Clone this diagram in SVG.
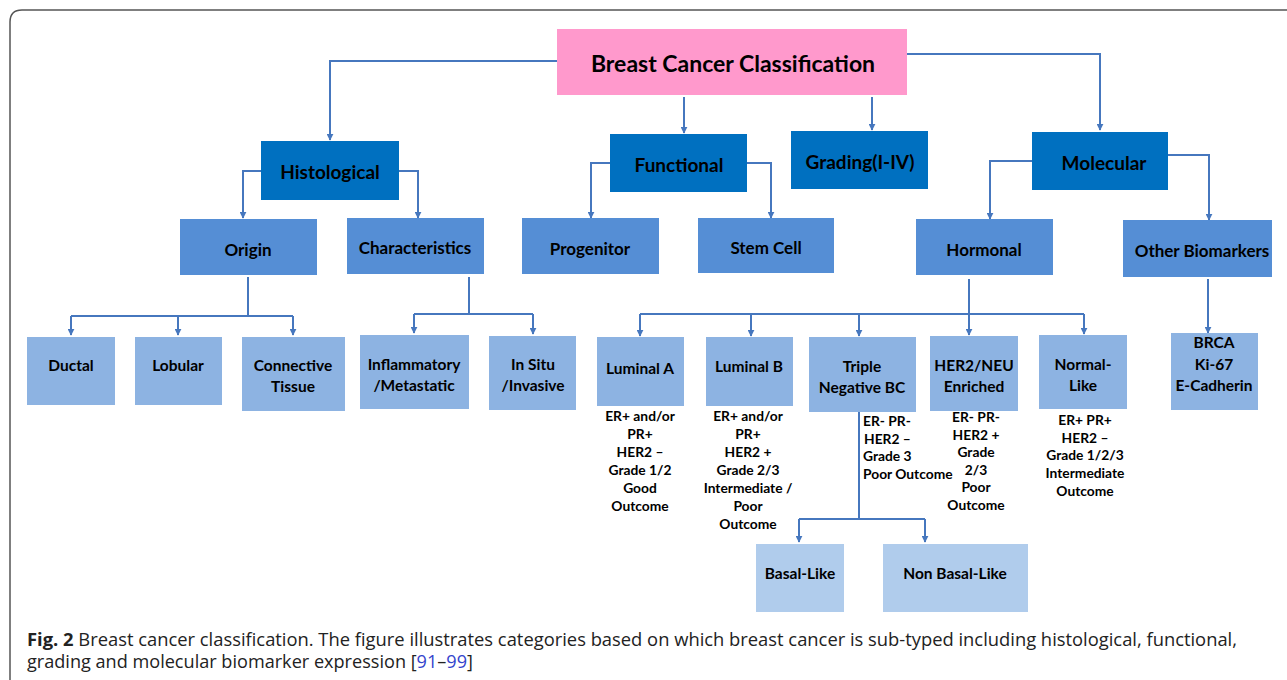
<svg xmlns="http://www.w3.org/2000/svg" width="1287" height="680" viewBox="0 0 1287 680">
<defs>
<marker id="ah" viewBox="0 0 10 10" refX="9" refY="5" markerWidth="7" markerHeight="7" markerUnits="userSpaceOnUse" orient="auto">
<path d="M0,0 L10,5 L0,10 z" fill="#4677BE"/>
</marker>
<style>
.c{fill:none;stroke:#4677BE;stroke-width:2}
.a{marker-end:url(#ah)}
.t{font-family:Lato,"Open Sans","Liberation Sans",sans-serif;font-weight:bold;fill:#000;text-anchor:middle}
.root{fill:#FF99CC}
.l1{fill:#0070C0}
.l2{fill:#558ED5}
.l3{fill:#8DB3E2}
.l4{fill:#B0CCEC}
.s0{font-size:23px}
.s1{font-size:19px}
.s2{font-size:17px}
.s3{font-size:15.5px}
.s4{font-size:13.8px}
.cap{font-family:"Open Sans","Liberation Sans",sans-serif;font-size:18px;fill:#222}
</style>
</defs>
<rect width="1287" height="680" fill="#fff"/>
<path d="M10,690 V22 Q10,10 22,10 H1300" fill="none" stroke="#555" stroke-width="1.5"/>

<g id="connectors">
<path class="c a" d="M557,61 H330 V140"/>
<path class="c a" d="M684,97 V133"/>
<path class="c a" d="M872,97 V130"/>
<path class="c a" d="M906,54 H1100 V130"/>
<path class="c a" d="M261,171 H243 V218"/>
<path class="c a" d="M399,171 H418 V218"/>
<path class="c a" d="M610,163 H591 V218"/>
<path class="c a" d="M747,163 H771 V218"/>
<path class="c a" d="M1032,161 H990 V219"/>
<path class="c a" d="M1168,155 H1209 V220"/>
<path class="c" d="M248,277 V316 M71,316 H293"/>
<path class="c a" d="M71,316 V335"/>
<path class="c a" d="M178,316 V335"/>
<path class="c a" d="M293,316 V335"/>
<path class="c" d="M469,277 V314 M414,314 H533"/>
<path class="c a" d="M414,314 V333"/>
<path class="c a" d="M533,314 V334"/>
<path class="c" d="M969,279 V314 M640,314 H1084"/>
<path class="c a" d="M640,314 V336"/>
<path class="c a" d="M751,314 V336"/>
<path class="c a" d="M859,314 V336"/>
<path class="c a" d="M969,314 V335"/>
<path class="c a" d="M1084,314 V334"/>
<path class="c a" d="M1208,279 V333"/>
<path class="c" d="M859,412 V519 M799,519 H925"/>
<path class="c a" d="M799,519 V542"/>
<path class="c a" d="M925,519 V542"/>
</g>

<g id="root"><rect class="root" x="557" y="29" width="350" height="66"/><text class="t s0" x="733" y="72">Breast Cancer Classification</text></g>
<g id="histological"><rect class="l1" x="261" y="141" width="138" height="59"/><text class="t s1" x="330" y="179">Histological</text></g>
<g id="functional"><rect class="l1" x="610" y="134" width="137" height="58"/><text class="t s1" x="679" y="172">Functional</text></g>
<g id="grading"><rect class="l1" x="791" y="131" width="137" height="58"/><text class="t s1" x="860" y="169">Grading(I-IV)</text></g>
<g id="molecular"><rect class="l1" x="1032" y="132" width="136" height="58"/><text class="t s1" x="1104" y="170">Molecular</text></g>

<g id="origin"><rect class="l2" x="180" y="219" width="137" height="56"/><text class="t s2" x="248" y="256">Origin</text></g>
<g id="characteristics"><rect class="l2" x="347" y="218" width="137" height="56"/><text class="t s2" x="415" y="254">Characteristics</text></g>
<g id="progenitor"><rect class="l2" x="522" y="218" width="137" height="56"/><text class="t s2" x="590" y="255">Progenitor</text></g>
<g id="stemcell"><rect class="l2" x="698" y="218" width="136" height="55"/><text class="t s2" x="766" y="254">Stem Cell</text></g>
<g id="hormonal"><rect class="l2" x="916" y="219" width="137" height="56"/><text class="t s2" x="984" y="256">Hormonal</text></g>
<g id="otherbiomarkers"><rect class="l2" x="1123" y="220" width="149" height="57"/><text class="t s2" x="1202" y="257">Other Biomarkers</text></g>

<g id="ductal"><rect class="l3" x="27" y="337" width="88" height="68"/><text class="t s3" x="71" y="371">Ductal</text></g>
<g id="lobular"><rect class="l3" x="135" y="337" width="87" height="68"/><text class="t s3" x="178" y="371">Lobular</text></g>
<g id="connective"><rect class="l3" x="242" y="337" width="103" height="74"/><text class="t s3" x="293" y="371">Connective<tspan x="293" dy="21">Tissue</tspan></text></g>
<g id="inflammatory"><rect class="l3" x="360" y="335" width="109" height="74"/><text class="t s3" x="414" y="370">Inflammatory<tspan x="414" dy="21">/Metastatic</tspan></text></g>
<g id="insitu"><rect class="l3" x="489" y="336" width="87" height="74"/><text class="t s3" x="533" y="370">In Situ<tspan x="533" dy="21">/Invasive</tspan></text></g>

<g id="luminalA"><rect class="l3" x="597" y="337" width="87" height="69"/><text class="t s3" x="640" y="374">Luminal A</text>
<text class="t s4" x="640" y="421">ER+ and/or<tspan x="640" dy="18">PR+</tspan><tspan x="640" dy="18">HER2 –</tspan><tspan x="640" dy="18">Grade 1/2</tspan><tspan x="640" dy="18">Good</tspan><tspan x="640" dy="18">Outcome</tspan></text></g>
<g id="luminalB"><rect class="l3" x="706" y="337" width="87" height="69"/><text class="t s3" x="749" y="372">Luminal B</text>
<text class="t s4" x="748" y="421">ER+ and/or<tspan x="748" dy="18">PR+</tspan><tspan x="748" dy="18">HER2 +</tspan><tspan x="748" dy="18">Grade 2/3</tspan><tspan x="748" dy="18">Intermediate /</tspan><tspan x="748" dy="18">Poor</tspan><tspan x="748" dy="18">Outcome</tspan></text></g>
<g id="tripleneg"><rect class="l3" x="809" y="337" width="107" height="75"/><text class="t s3" x="862" y="372">Triple<tspan x="862" dy="21">Negative BC</tspan></text>
<text class="t s4" x="863" y="426" style="text-anchor:start">ER- PR-<tspan x="864" dy="17.5">HER2 –</tspan><tspan x="863" dy="17.5">Grade 3</tspan><tspan x="863" dy="17.5">Poor Outcome</tspan></text></g>
<g id="her2"><rect class="l3" x="930" y="336" width="88" height="75"/><text class="t s3" x="974" y="371">HER2/NEU<tspan x="974" dy="21">Enriched</tspan></text>
<text class="t s4" x="976" y="422">ER-  PR-<tspan x="976" dy="17.6">HER2 +</tspan><tspan x="976" dy="17.6">Grade</tspan><tspan x="976" dy="17.6">2/3</tspan><tspan x="976" dy="17.6">Poor</tspan><tspan x="976" dy="17.6">Outcome</tspan></text></g>
<g id="normallike"><rect class="l3" x="1039" y="335" width="88" height="74"/><text class="t s3" x="1083" y="370">Normal-<tspan x="1083" dy="21">Like</tspan></text>
<text class="t s4" x="1085" y="425">ER+  PR+<tspan x="1085" dy="17.7">HER2 –</tspan><tspan x="1085" dy="17.7">Grade 1/2/3</tspan><tspan x="1085" dy="17.7">Intermediate</tspan><tspan x="1085" dy="17.7">Outcome</tspan></text></g>
<g id="brca"><rect class="l3" x="1171" y="333" width="87" height="77"/><text class="t s3" x="1214" y="348">BRCA<tspan x="1214" dy="21.5">Ki-67</tspan><tspan x="1214" dy="21.5">E-Cadherin</tspan></text></g>

<g id="basallike"><rect class="l4" x="756" y="544" width="88" height="68"/><text class="t s3" x="800" y="579">Basal-Like</text></g>
<g id="nonbasallike"><rect class="l4" x="883" y="544" width="145" height="68"/><text class="t s3" x="955" y="579">Non Basal-Like</text></g>

<g id="caption">
<text class="cap" x="27" y="646" textLength="1210" lengthAdjust="spacingAndGlyphs"><tspan font-weight="bold">Fig. 2</tspan>  Breast cancer classification. The figure illustrates categories based on which breast cancer is sub-typed including histological, functional,</text>
<text class="cap" x="27" y="668" textLength="446" lengthAdjust="spacingAndGlyphs">grading and molecular biomarker expression [<tspan fill="#3344CC">91</tspan>–<tspan fill="#3344CC">99</tspan>]</text>
</g>
</svg>
